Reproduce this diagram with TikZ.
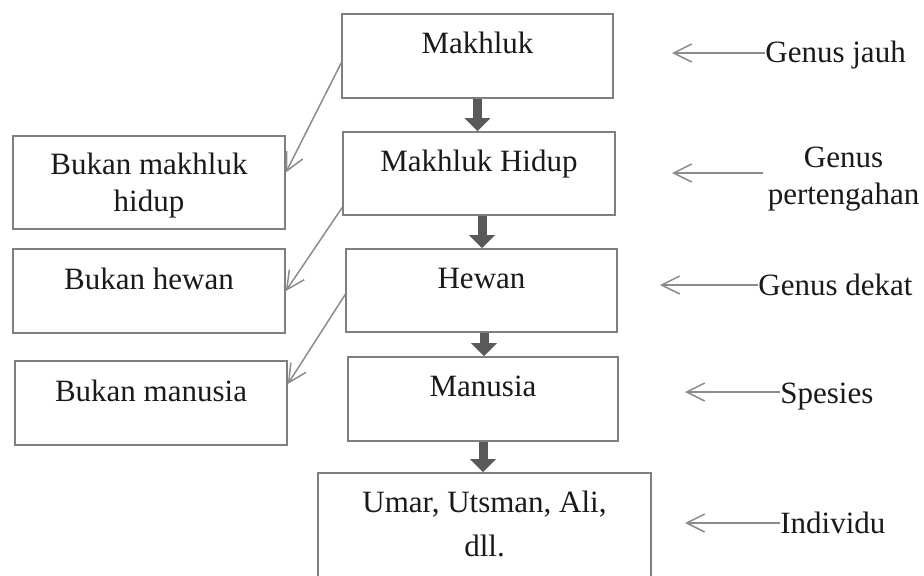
\documentclass[tikz,border=0pt]{standalone}
\usepackage{fontspec}
\setmainfont{Liberation Serif}
\usetikzlibrary{arrows.meta}
\definecolor{boxline}{HTML}{7F7F7F}
\definecolor{flowarrow}{HTML}{595959}
\definecolor{pointerline}{HTML}{8C8C8C}
\definecolor{inkblack}{HTML}{1A1A1A}

\begin{document}
\begin{tikzpicture}[x=0.5pt,y=-0.5pt,
  box/.style={draw=boxline, line width=0.8pt, fill=white, inner sep=0pt},
  boxtext/.style={inner sep=0pt, anchor=base, text=inkblack, align=center,
    font=\fontsize{15.5}{18.5}\selectfont},
  sidetext/.style={inner sep=0pt, text=inkblack, align=center,
    font=\fontsize{15.5}{18.5}\selectfont},
  flow/.style={draw=flowarrow, line width=4.5pt,
    -{Triangle[width=12.5pt,length=6.5pt]}},
  pointer/.style={draw=pointerline, line width=0.75pt,
    -{Straight Barb[length=9pt,width=9pt]}}
]
\clip (0,0) rectangle (924,575);
\fill[white] (0,0) rectangle (924,575);

% main chain
\node[box, minimum width=135.5pt, minimum height=42pt]   (mk) at (477.5,56)  {};
\node[box, minimum width=136pt,   minimum height=41.5pt] (mh) at (479,173.5) {};
\node[box, minimum width=135.5pt, minimum height=41.5pt] (hw) at (481.5,290.5) {};
\node[box, minimum width=135pt,   minimum height=42pt]   (mn) at (483,399)   {};
\node[box, minimum width=166.5pt, minimum height=63.5pt] (um) at (484.5,536.5) {};

% single-line texts sit on their baseline; two-line texts on the baseline of the last line
\node[boxtext] (mk-t) at ([yshift=-20pt]mk.north) {Makhluk};
\node[boxtext] (mh-t) at ([yshift=-20pt]mh.north) {Makhluk Hidup};
\node[boxtext] (hw-t) at ([yshift=-20pt]hw.north) {Hewan};
\node[boxtext] (mn-t) at ([yshift=-20pt]mn.north) {Manusia};
\node[boxtext, font=\fontsize{15.5}{22}\selectfont] (um-t) at ([yshift=-42pt]um.north) {Umar, Utsman, Ali,\\dll.};

% negations on the left
\node[box, minimum width=136pt, minimum height=46.5pt] (bm) at (149,182.5) {};
\node[box, minimum width=136pt, minimum height=42pt]   (bh) at (149,291)   {};
\node[box, minimum width=136pt, minimum height=42pt]   (bn) at (151,403)   {};

\node[boxtext] (bm-t) at ([yshift=-38pt]bm.north) {Bukan makhluk\\hidup};
\node[boxtext] (bh-t) at ([yshift=-20.5pt]bh.north) {Bukan hewan};
\node[boxtext] (bn-t) at ([yshift=-20.5pt]bn.north) {Bukan manusia};

% downward flow
\draw[flow] (mk.south) -- (mk.south |- mh.north);
\draw[flow] ([xshift=1.5pt]mh.south) -- ([xshift=1.5pt]mh.south |- hw.north);
\draw[flow] ([xshift=1.25pt]hw.south) -- ([xshift=1.25pt]hw.south |- mn.north);
\draw[flow] (mn.south) -- (mn.south |- um.north);

% branches to the negations
\draw[pointer] ([yshift=-3.5pt]mk.west) -- ([yshift=5pt]bm.east);
\draw[pointer] ([yshift=-17pt]mh.west) -- (bh.east);
\draw[pointer] ([yshift=-2pt]hw.west) -- ([yshift=9.5pt]bn.east);

% level names on the right
\node[sidetext, anchor=base west] (gj) at (765,62)   {Genus jauh};
\node[sidetext, anchor=base]      (gp) at (843.5,204) {Genus\\pertengahan};
\node[sidetext, anchor=base west] (gd) at (758,295)  {Genus dekat};
\node[sidetext, anchor=base west] (sp) at (780,403)  {Spesies};
\node[sidetext, anchor=base west] (in) at (780,533)  {Individu};

\coordinate (gj-end) at (672,53);
\coordinate (gp-end) at (672,173);
\coordinate (gd-end) at (660,285);
\coordinate (sp-end) at (685,392);
\coordinate (in-end) at (685,523);

\draw[pointer] (gj.west |- gj-end) -- (gj-end);
\draw[pointer] ([xshift=-2pt]gp.west |- gp-end) -- (gp-end);
\draw[pointer] (gd.west |- gd-end) -- (gd-end);
\draw[pointer] (sp.west |- sp-end) -- (sp-end);
\draw[pointer] (in.west |- in-end) -- (in-end);
\end{tikzpicture}
\end{document}
